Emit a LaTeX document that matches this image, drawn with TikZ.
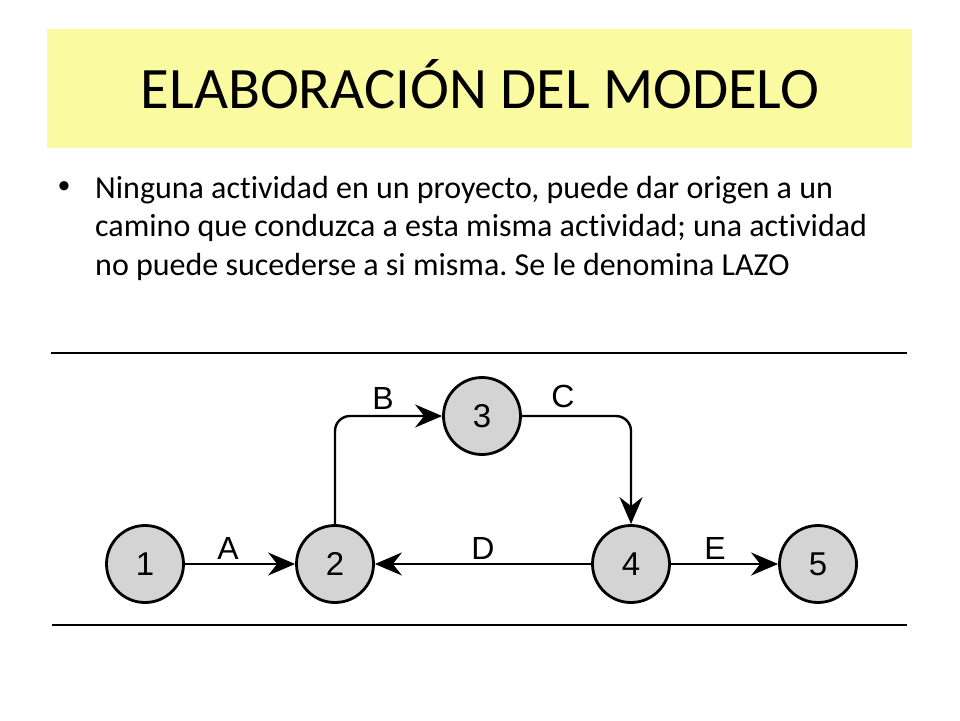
\documentclass[tikz,border=0pt]{standalone}
\usepackage{fontspec}
\setmainfont[Ligatures={NoCommon}]{Carlito}
\newfontfamily\diagfont{Liberation Sans}
\usetikzlibrary{arrows.meta}
\definecolor{titlebg}{RGB}{250,250,160}
\definecolor{nodefill}{RGB}{212,212,212}
\tikzset{
  evt/.style={circle, draw=black, line width=2.8pt, fill=nodefill, minimum size=77pt, inner sep=0pt, font=\diagfont\fontsize{33}{33}\selectfont},
  lbl/.style={font=\diagfont\fontsize{32}{32}\selectfont, inner sep=0pt},
  conn/.style={line width=2.4pt, -{Stealth[length=27pt,width=23pt,inset=9pt]}},
  rule/.style={line width=1.6pt},
  bodytext/.style={anchor=base west, inner sep=0pt, font=\fontsize{32}{38.5}\selectfont}
}
\begin{document}
\frenchspacing
\begin{tikzpicture}[x=1pt,y=-1pt]
\useasboundingbox (0,0) rectangle (960,720);
\fill[white] (0,0) rectangle (960,720);
% title band
\fill[titlebg] (47,29) rectangle (912,148);
\node[anchor=base, inner sep=0pt, font=\fontsize{58.7}{70}\selectfont] (title) at (480,108) {ELABORACIÓN DEL MODELO};
% bullet text
\node[anchor=center, inner sep=0pt, font=\fontsize{26}{26}\selectfont] (bullet) at (64,188) {•};
\node[bodytext] (l1) at (95,198) {Ninguna actividad en un proyecto, puede dar origen a un};
\node[bodytext] (l2) at (95,236.5) {camino que conduzca a esta misma actividad; una actividad};
\node[bodytext] (l3) at (95,275) {no puede sucederse a si misma. Se le denomina LAZO};
% rules
\coordinate (t1) at (51,353);
\coordinate (t2) at (907,353);
\coordinate (b1) at (52,625);
\coordinate (b2) at (907,625);
\draw[rule] (t1) -- (t2);
\draw[rule] (b1) -- (b2);
% nodes
\node[evt] (n1) at (145,564) {1};
\node[evt] (n2) at (335,564) {2};
\node[evt] (n3) at (482,416) {3};
\node[evt] (n4) at (631,564) {4};
\node[evt] (n5) at (818,564) {5};
% connectors
\draw[conn] (n1) -- (n2);
\draw[conn] (n4) -- (n2);
\draw[conn] (n4) -- (n5);
\draw[conn, rounded corners=15pt] (n2.north) |- (n3.west);
\draw[conn, rounded corners=15pt] (n3.east) -| (n4.north);
% labels
\node[lbl] (la) at (228,548) {A};
\node[lbl] (lb) at (383,398) {B};
\node[lbl] (lc) at (563,396) {C};
\node[lbl] (ld) at (483,548) {D};
\node[lbl] (le) at (715,548) {E};
\end{tikzpicture}
\end{document}
